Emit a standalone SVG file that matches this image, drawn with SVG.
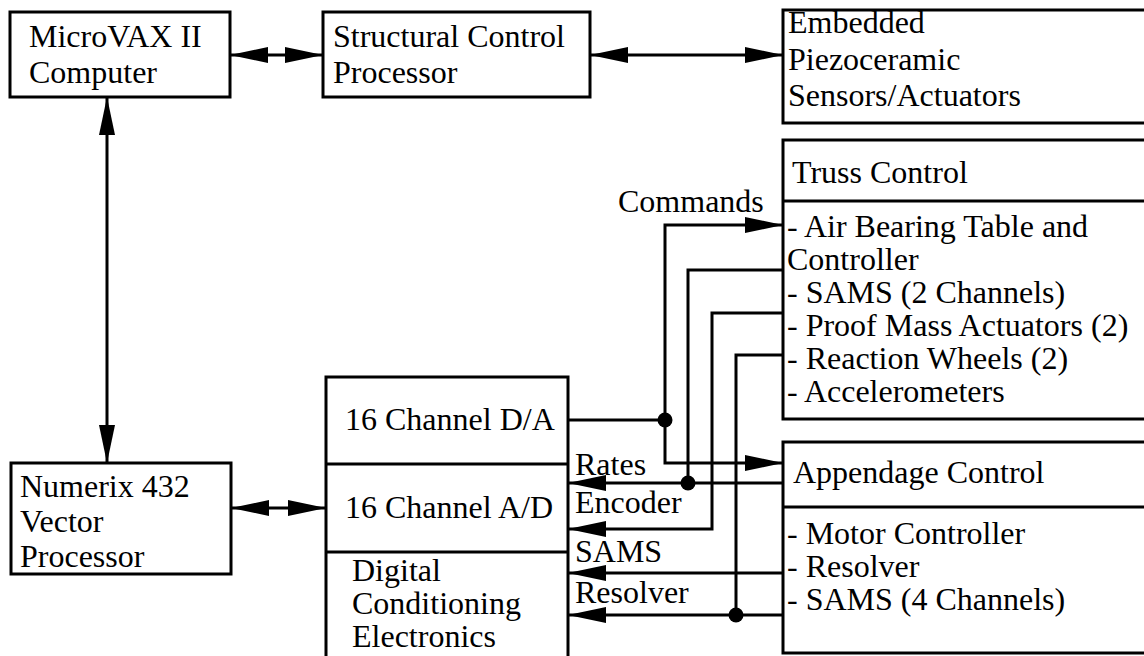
<svg xmlns="http://www.w3.org/2000/svg" width="1144" height="656" viewBox="0 0 1144 656">
<style>
.box{fill:#fff;stroke:#000;stroke-width:3}
.div{stroke:#000;stroke-width:3}
.t{font-family:"Liberation Serif","Times New Roman",serif;font-size:32px;fill:#000}
.w{fill:none;stroke:#000;stroke-width:3}
.dot{fill:#000}
</style>
<defs>
<marker id="ah" viewBox="0 0 38 16" markerWidth="38" markerHeight="16" refX="38" refY="8" orient="auto-start-reverse" markerUnits="userSpaceOnUse">
<path d="M0,0 L38,8 L0,16 Z" fill="#000"/>
</marker>
</defs>
<rect width="1144" height="656" fill="#fff"/>

<g id="microvax">
<rect class="box" x="10" y="12" width="220" height="85"/>
<text class="t" x="29" y="47">MicroVAX II</text>
<text class="t" x="29" y="83">Computer</text>
</g>

<g id="structural">
<rect class="box" x="323" y="12" width="267" height="85"/>
<text class="t" x="333" y="47">Structural Control</text>
<text class="t" x="333" y="83">Processor</text>
</g>

<g id="embedded">
<rect class="box" x="783" y="10" width="380" height="113"/>
<text class="t" x="788" y="33">Embedded</text>
<text class="t" x="788" y="70">Piezoceramic</text>
<text class="t" x="788" y="106">Sensors/Actuators</text>
</g>

<g id="truss">
<rect class="box" x="783" y="140" width="380" height="279"/>
<line class="div" x1="783" y1="201" x2="1163" y2="201"/>
<text class="t" x="792" y="183">Truss Control</text>
<text class="t" x="787" y="237">- Air Bearing Table and</text>
<text class="t" x="787" y="270">Controller</text>
<text class="t" x="787" y="303">- SAMS (2 Channels)</text>
<text class="t" x="787" y="336">- Proof Mass Actuators (2)</text>
<text class="t" x="787" y="369">- Reaction Wheels (2)</text>
<text class="t" x="787" y="402">- Accelerometers</text>
</g>

<g id="appendage">
<rect class="box" x="783" y="442" width="380" height="211"/>
<line class="div" x1="783" y1="507" x2="1163" y2="507"/>
<text class="t" x="793" y="483">Appendage Control</text>
<text class="t" x="787" y="544">- Motor Controller</text>
<text class="t" x="787" y="577">- Resolver</text>
<text class="t" x="787" y="610">- SAMS (4 Channels)</text>
</g>

<g id="converters">
<rect class="box" x="326" y="377" width="242" height="300"/>
<line class="div" x1="326" y1="464" x2="568" y2="464"/>
<line class="div" x1="326" y1="552" x2="568" y2="552"/>
<text class="t" x="345" y="430">16 Channel D/A</text>
<text class="t" x="345" y="518">16 Channel A/D</text>
<text class="t" x="352" y="581">Digital</text>
<text class="t" x="352" y="614">Conditioning</text>
<text class="t" x="352" y="647">Electronics</text>
</g>

<g id="numerix">
<rect class="box" x="11" y="463" width="220" height="111"/>
<text class="t" x="20" y="497">Numerix 432</text>
<text class="t" x="20" y="532">Vector</text>
<text class="t" x="20" y="567">Processor</text>
</g>

<g id="connectors">
<line class="w" x1="230" y1="55" x2="323" y2="55" marker-start="url(#ah)" marker-end="url(#ah)"/>
<line class="w" x1="590" y1="55" x2="783" y2="55" marker-start="url(#ah)" marker-end="url(#ah)"/>
<line class="w" x1="107" y1="97" x2="107" y2="463" marker-start="url(#ah)" marker-end="url(#ah)"/>
<line class="w" x1="231" y1="508" x2="326" y2="508" marker-start="url(#ah)" marker-end="url(#ah)"/>

<line class="w" x1="568" y1="420" x2="665" y2="420"/>
<path class="w" d="M665,420 V225 H783" marker-end="url(#ah)"/>
<path class="w" d="M665,420 V463 H783" marker-end="url(#ah)"/>
<circle class="dot" cx="665" cy="420" r="7.5"/>

<path class="w" d="M783,270 H688 V483"/>
<line class="w" x1="783" y1="483" x2="568" y2="483" marker-end="url(#ah)"/>
<circle class="dot" cx="688" cy="483" r="7.5"/>

<path class="w" d="M783,313 H712 V529 H568" marker-end="url(#ah)"/>

<line class="w" x1="783" y1="573" x2="568" y2="573" marker-end="url(#ah)"/>

<path class="w" d="M783,355 H736 V615"/>
<line class="w" x1="783" y1="615" x2="568" y2="615" marker-end="url(#ah)"/>
<circle class="dot" cx="736" cy="615" r="7.5"/>

<text class="t" x="618" y="212">Commands</text>
<text class="t" x="575" y="475">Rates</text>
<text class="t" x="575" y="513">Encoder</text>
<text class="t" x="575" y="562">SAMS</text>
<text class="t" x="575" y="603">Resolver</text>
</g>
</svg>
